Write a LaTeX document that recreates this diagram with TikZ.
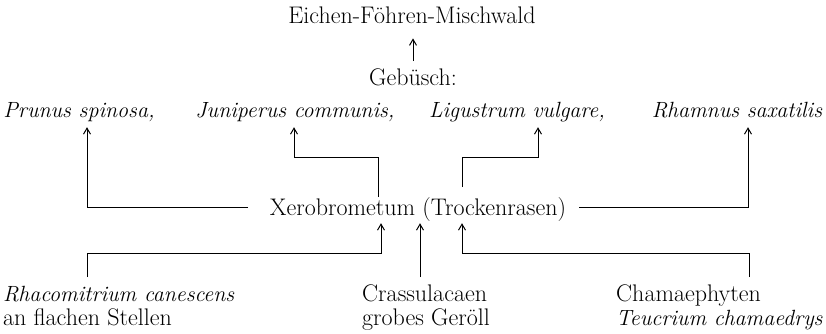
\documentclass[tikz,border=0pt]{standalone}
\usetikzlibrary{arrows.meta}
\newcommand{\latname}[1]{{\fontsize{22}{24}\selectfont\itshape #1}}
\begin{document}
\begin{tikzpicture}[
		x=1pt, y=-1pt,
		lbl/.style={
			font=\fontsize{24}{24}\selectfont,
			inner sep=0pt
		},
		spec/.style={
			lbl,
			font=\fontsize{22}{24}\selectfont\itshape,
			anchor=base,
			text depth=10pt
		},
		multi/.style={lbl, align=left, anchor=north west},
		line/.style={draw, line width=0.8pt},
		arr/.style={line, line width=1pt, -{Straight Barb[length=6pt,width=7pt]}}
		]
		\useasboundingbox (0,0) rectangle (826,333);
		
		% Top nodes
		\node[lbl, anchor=base] (wald) at (412,23) {Eichen-Föhren-Mischwald};
		\node[lbl, anchor=base] (geb) at (413,85) {Gebüsch:};
		
		% Shrubs
		\node[spec] (prunus) at (79,117) {Prunus spinosa,};
		\node[spec] (junip) at (295,117) {Juniperus communis,};
		\node[spec] (ligus) at (517,117) {Ligustrum vulgare,};
		\node[spec] (rhamn) at (737,117) {Rhamnus saxatilis};
		
		% Middle node
		\node[lbl, anchor=base] (xero) at (418,215) {Xerobrometum (Trockenrasen)};
		
		% Bottom nodes
		\node[multi] (rhaco) at (3,286) {\latname{Rhacomitrium canescens}\\an flachen Stellen};
		\node[multi] (crass) at (362,285) {Crassulacaen\\grobes Geröll};
		\node[multi] (chama) at (616,285) {Chamaephyten\\\latname{Teucrium chamaedrys}};
		
		% Line ends beside the middle node
		\coordinate (xl) at (248,207);
		\coordinate (xr) at (579,207);
		
		% Gebuesch to Mischwald
		\draw[arr, shorten <=7pt, shorten >=15pt] (geb.north) -- (geb.north |- wald.south);
		
		% Outer branches
		\draw[arr] (xl) -| (prunus.south -| 87,0);
		\draw[arr] (xr) -| (rhamn.south -| 748,0);
		
		% Inner branches
		\draw[arr] (378,197) -- (378,157) -| (junip.south -| 294,0);
		\draw[arr] (462,187) -- (462,157) -| (ligus.south -| 538,0);
		
		% From below
		\draw[arr, shorten <=9pt, shorten >=2pt] (rhaco.north -| 87,0) |- (381,253) -- (xero.south -| 381,0);
		\draw[arr, shorten <=8pt, shorten >=2pt] (crass.north -| 420,0) -- (xero.south -| 420,0);
		\draw[arr, shorten <=8pt, shorten >=2pt] (chama.north -| 749,0) |- (462,253) -- (xero.south -| 462,0);
		
	\end{tikzpicture}
\end{document}
